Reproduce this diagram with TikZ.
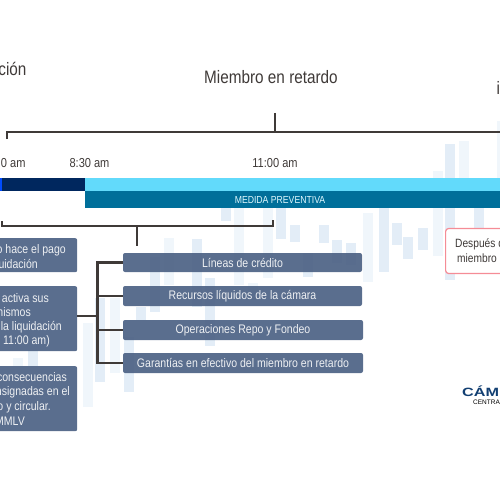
\documentclass[tikz,border=0pt]{standalone}
\usepackage{fontspec}
\setmainfont[FakeStretch=0.85]{Liberation Sans}
\newfontfamily\logofont[FakeStretch=1.35]{Liberation Sans}
\newfontfamily\plainfont{Liberation Sans}
\definecolor{inkdark}{HTML}{3F3A38}
\definecolor{boxblue}{HTML}{516688}
\definecolor{navybar}{HTML}{00275E}
\definecolor{skybar}{HTML}{62DAFB}
\definecolor{tealbar}{HTML}{006F9A}
\definecolor{candle}{HTML}{E3EDF7}
\definecolor{candlelight}{HTML}{F0F6FB}
\definecolor{redline}{HTML}{F58C96}
\definecolor{logoblue}{HTML}{123F72}
\tikzset{
  title/.style={text=inkdark, font=\fontsize{18}{20}\selectfont},
  hour/.style={text=inkdark, font=\fontsize{13}{15}\selectfont},
  note/.style={text=inkdark, font=\fontsize{12}{14}\selectfont, anchor=west, inner sep=0pt},
  tool/.style={fill=boxblue, fill opacity=.95, text opacity=1, rounded corners=2pt, text=white!90!boxblue, font=\fontsize{12.4}{14}\selectfont, inner sep=0pt, align=center},
  boxtext/.style={text=white!90!boxblue, font=\fontsize{12.4}{14}\selectfont, inner sep=0pt, anchor=east},
  brace/.style={draw=inkdark, line width=1.4pt},
  branch/.style={draw=inkdark, line width=2.2pt}
}
\begin{document}
\begin{tikzpicture}[x=1pt,y=-1pt]
  \useasboundingbox (0,0) rectangle (500,500);
  \clip (0,0) rectangle (500,500);

  % fondo
  \foreach \xa/\ya/\yb in {
    445/144/178, 221/208/221, 276/208/239, 290/225/242, 303/253/277, 319/225/243,
    332/240/263, 346/243/265, 379/208/272, 392/223/245, 403/237/259, 418/228/250,
    445/208/280, 474/208/240, 192/239/307, 205/278/346, 150/257/312, 124/337/392,
    95/298/382, 136/307/320, 28/350/366}
    \fill[candle] (\xa,\ya) rectangle ++(10,\yb-\ya);
  \foreach \xa/\ya/\yb in {
    433/171/178, 459/141/178, 497/121/178, 234/208/285, 263/208/278, 363/213/282,
    433/208/256, 164/238/285, 110/298/373, 83/323/407, 248/283/300, 13/358/366}
    \fill[candlelight] (\xa,\ya) rectangle ++(10,\yb-\ya);

  % barras
  \fill[navybar] (2,178) rectangle (85,191);
  \fill[blue!70!cyan] (0,178) rectangle (2,191);
  \fill[skybar] (85,178) rectangle (500,191);
  \fill[tealbar] (85,191) rectangle (500,208);
  \node[text=white!80!skybar, font=\fontsize{10.2}{12}\selectfont] (medida) at (280,200) {MEDIDA PREVENTIVA};

  % titulos y horas
  \node[title, anchor=east] (liq) at (30,69) {ación};
  \node[title] (retardo) at (271,77) {Miembro en retardo};
  \node[title, anchor=west] (inc) at (493,88) {i};
  \node[hour, anchor=east] (h1) at (29,163) {0 am};
  \node[hour] (h2) at (89.5,163) {8:30 am};
  \node[hour] (h3) at (275,163) {11:00 am};

  % llaves
  \coordinate (topleft) at (7,139);
  \coordinate (toptick) at (275,113);
  \coordinate (topmid) at (275,132);
  \draw[brace] (topleft) -- (7,132) -- (500,132);
  \draw[brace] (toptick) -- (topmid);
  \draw[brace] (2,221) -- (2,226) -- (273,226) -- (273,220);
  \coordinate (midtop) at (137,226);
  \coordinate (midend) at (137,246);
  \draw[brace] (midtop) -- (midend);

  % cajas izquierda
  \node[tool, anchor=north west, minimum width=82pt, minimum height=34pt] (pago) at (-5,238) {};
  \node[tool, anchor=north west, minimum width=82pt, minimum height=65pt] (activa) at (-5,286) {};
  \node[tool, anchor=north west, minimum width=82pt, minimum height=65pt] (conse) at (-5,366) {};
  \node[boxtext] (p1) at (66,250) {o hace el pago};
  \node[boxtext] (p2) at (38,264) {uidación};
  \node[boxtext] (a1) at (49,298) {activa sus};
  \node[boxtext] (a2) at (31,312) {nismos};
  \node[boxtext] (a3) at (62,327) {la liquidación};
  \node[boxtext] (a4) at (50,341) {11:00 am)};
  \node[boxtext] (c1) at (67,377) {consecuencias};
  \node[boxtext] (c2) at (70,392) {nsignadas en el};
  \node[boxtext] (c3) at (51,407) {o y circular.};
  \node[boxtext] (c4) at (25,421) {MMLV};

  % cajas derecha
  \node[tool, minimum width=239pt, minimum height=19pt] (lineas) at (242.5,262.5) {Líneas de crédito};
  \node[tool, minimum width=239pt, minimum height=20pt] (recursos) at (242.5,296) {Recursos líquidos de la cámara};
  \node[tool, minimum width=240pt, minimum height=20pt] (repo) at (243,330) {Operaciones Repo y Fondeo};
  \node[tool, minimum width=240pt, minimum height=20pt] (garantias) at (243,363) {Garantías en efectivo del miembro en retardo};

  % conectores
  \coordinate (tree) at (97.5,316);
  \draw[branch] (activa.east |- tree) -- (tree);
  \draw[branch] (lineas.west) -| (tree);
  \draw[branch] (recursos.west) -| (tree);
  \draw[branch] (repo.west) -| (tree);
  \draw[branch] (garantias.west) -| (tree);

  % nota
  \node[fill=white, draw=redline, line width=1.2pt, rounded corners=3pt, minimum width=70pt, minimum height=45pt, anchor=west] (despues) at (445,251) {};
  \node[note] (nota1) at (455,244.5) {Después d};
  \node[note] (nota2) at (457,258) {miembro};

  % logo
  \node[text=logoblue, font=\logofont\fontsize{12}{14}\bfseries\selectfont, anchor=west, inner sep=0pt] (camara) at (462,391) {CÁM};
  \node[text=black, font=\plainfont\fontsize{6.5}{8}\selectfont, anchor=west, inner sep=0pt] (central) at (473,402) {CENTRAL};
\end{tikzpicture}
\end{document}
